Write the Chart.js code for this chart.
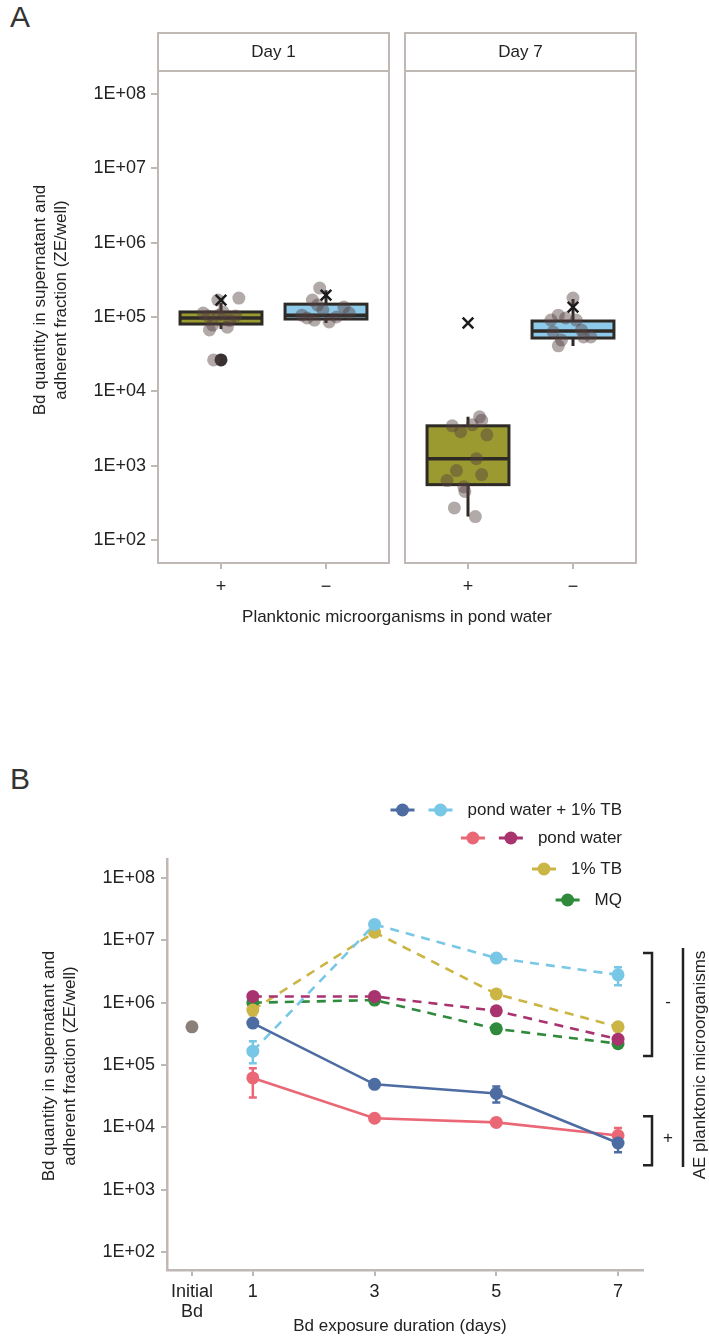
<!DOCTYPE html>
<html lang="en">
<head>
<meta charset="UTF-8">
<title>Bd quantity</title>
<style>
  body{margin:0;background:#fff;}
  #wrap{position:relative;width:709px;height:1337px;background:#fff;overflow:hidden;}
  canvas{position:absolute;}
  .lbl{position:absolute;font-family:'Liberation Sans',Arial,sans-serif;font-size:30px;color:#333;}
</style>
</head>
<body>
<div id="wrap">
  <div class="lbl" style="left:10px;top:0px">A</div>
  <div class="lbl" style="left:10px;top:762px">B</div>
  <canvas id="a1" width="709" height="640" style="left:0;top:0"></canvas>
  <canvas id="a2" width="314" height="640" style="left:395px;top:0"></canvas>
  <canvas id="b" width="709" height="597" style="left:0;top:740px"></canvas>
</div>
<script src="https://cdn.jsdelivr.net/npm/chart.js"></script>
<script>
// ---- shared axis ticks ----
const tickVals = [1e2, 1e3, 1e4, 1e5, 1e6, 1e7, 1e8];
const tickLabels = ['1E+02', '1E+03', '1E+04', '1E+05', '1E+06', '1E+07', '1E+08'];

// ---- panel A: planktonic microorganisms + / - ----
const groupsA = ['+', '\u2212'];
const facets = ['Day 1', 'Day 7'];
const boxFills = ['#9a9a30', '#8ecbea'];

// day 1 boxes (+, -)
const day1Q1 = [8.05e4, 9.4e4];
const day1Med = [9.7e4, 1.06e5];
const day1Q3 = [1.17e5, 1.49e5];
const day1Lo = [6.9e4, 8.3e4];
const day1Hi = [1.54e5, 2.3e5];
const day1Mean = [1.69e5, 1.97e5];
const day1Out = [[2.65e4], []];
const day1PlusVals = [1.8e5, 1.69e5, 1.13e5, 1.03e5, 7.8e4, 6.7e4, 7.3e4, 2.65e4, 1.06e5, 1.17e5, 1.03e5, 9.0e4];
const day1PlusJit = [0.17, -0.03, -0.17, 0.14, -0.08, -0.11, 0.06, -0.07, -0.02, 0.02, -0.12, 0.08];
const day1MinusVals = [2.45e5, 1.69e5, 1.36e5, 9.7e4, 9.1e4, 8.6e4, 1.0e5, 1.06e5, 1.24e5, 1.13e5, 1.45e5];
const day1MinusJit = [-0.06, -0.13, 0.17, -0.18, -0.11, 0.03, 0.10, -0.23, -0.03, 0.22, -0.08];

// day 7 boxes (+, -)
const day7Q1 = [5.56e2, 5.22e4];
const day7Med = [1.24e3, 6.49e4];
const day7Q3 = [3.44e3, 8.84e4];
const day7Lo = [2.07e2, 4.08e4];
const day7Hi = [4.55e3, 1.75e5];
const day7Mean = [8.3e4, 1.36e5];
const day7Out = [[], []];
const day7PlusVals = [4.55e3, 4.1e3, 3.44e3, 2.86e3, 3.55e3, 2.6e3, 1.24e3, 8.6e2, 7.6e2, 6.3e2, 5.2e2, 4.5e2, 2.7e2, 2.07e2];
const day7PlusJit = [0.11, 0.13, -0.15, -0.07, 0.04, 0.18, 0.08, -0.11, 0.13, -0.2, -0.04, -0.03, -0.13, 0.07];
const day7MinusVals = [1.8e5, 1.06e5, 9.1e4, 9.1e4, 6.3e4, 4.9e4, 4.1e4, 5.4e4, 5.4e4, 6.7e4, 9.7e4];
const day7MinusJit = [0, -0.14, -0.21, 0.03, -0.19, -0.11, -0.14, 0.10, 0.17, 0.08, -0.07];

// ---- panel B: time course ----
const xTickVals = [0, 1, 3, 5, 7];
const xTickLabels = [['Initial', 'Bd'], '1', '3', '5', '7'];
const days = [1, 3, 5, 7];
const initialBd = 4.1e5;
const pwTbPlus = [4.7e5, 4.9e4, 3.5e4, 5.6e3];
const pwTbMinus = [1.67e5, 1.8e7, 5.2e6, 2.8e6];
const pwPlus = [6.2e4, 1.4e4, 1.2e4, 7.4e3];
const pwMinus = [1.26e6, 1.26e6, 7.4e5, 2.6e5];
const tbOnly = [7.6e5, 1.35e7, 1.38e6, 4.1e5];
const mqOnly = [1.0e6, 1.1e6, 3.8e5, 2.2e5];
const pwTbPlusLo = [null, null, 2.5e4, 4.0e3];
const pwTbPlusHi = [null, null, 4.5e4, 7.0e3];
const pwTbMinusLo = [1.07e5, null, null, 1.9e6];
const pwTbMinusHi = [2.4e5, null, null, 3.7e6];
const pwPlusLo = [3.0e4, null, null, 5.8e3];
const pwPlusHi = [8.9e4, null, null, 9.8e3];
const tbLo = [6.3e5, null, null, null];
const tbHi = [9.5e5, null, null, null];
const seriesB = [pwTbPlus, pwTbMinus, pwPlus, pwMinus, tbOnly, mqOnly];
const seriesLo = [pwTbPlusLo, pwTbMinusLo, pwPlusLo, [null,null,null,null], tbLo, [null,null,null,null]];
const seriesHi = [pwTbPlusHi, pwTbMinusHi, pwPlusHi, [null,null,null,null], tbHi, [null,null,null,null]];
const colorsB = ['#4c6ca2', '#78c7e6', '#ea6775', '#a8336f', '#cbb545', '#2f8a3c'];
const dashedB = [false, true, false, true, true, true];
const legendLabels = ['pond water + 1% TB', 'pond water', '1% TB', 'MQ'];
const legendSeries = [[0, 1], [2, 3], [4], [5]];

const fontFam = "'Liberation Sans', Arial, sans-serif";
const axisGray = '#bfb8b4';
const ink = '#222';
const boxLine = '#2e2b27';

function fixedTicks(vals) {
  return function (s) { s.ticks = vals.map(v => ({ value: v })); };
}

function yLogScale(show, min, max, width, tl, pad, border) {
  return {
    type: 'logarithmic', min: min, max: max, display: show,
    afterBuildTicks: fixedTicks(tickVals),
    afterFit: s => { s.width = width; },
    grid: { drawOnChartArea: false, tickLength: tl, color: axisGray, lineWidth: 2 },
    border: border ? { display: true, color: axisGray, width: 2.5 } : { display: false },
    ticks: { autoSkip: false, padding: pad, color: ink, font: { family: fontFam, size: 18 },
      callback: v => tickLabels[tickVals.indexOf(v)] }
  };
}

function textRot(ctx, txt, x, y) {
  ctx.save();
  ctx.translate(x, y);
  ctx.rotate(-Math.PI / 2);
  ctx.textAlign = 'center';
  ctx.textBaseline = 'middle';
  ctx.fillText(txt, 0, 0);
  ctx.restore();
}

// ---- panel A ----
function makeFacet(id, fi, q1, med, q3, lo, hi, mean, outs, plusV, plusJ, minusV, minusJ, showY, yWidth, pad) {
  const pts = plusV.map((v, i) => ({ x: 1 + plusJ[i], y: v }))
    .concat(minusV.map((v, i) => ({ x: 2 + minusJ[i], y: v })));
  const outPts = [];
  outs.forEach((arr, g) => arr.forEach(v => outPts.push({ x: g + 1, y: v })));
  const boxHalf = 0.39;

  const facetPlugin = {
    id: 'facet' + fi,
    beforeDatasetsDraw(chart) {
      const { ctx, scales: { x, y } } = chart;
      ctx.save();
      ctx.strokeStyle = boxLine;
      for (let i = 0; i < q1.length; i++) {
        const cx = x.getPixelForValue(i + 1);
        const xl = x.getPixelForValue(i + 1 - boxHalf), xr = x.getPixelForValue(i + 1 + boxHalf);
        const yq1 = y.getPixelForValue(q1[i]), yq3 = y.getPixelForValue(q3[i]);
        ctx.lineWidth = 3;
        ctx.beginPath();
        ctx.moveTo(cx, y.getPixelForValue(hi[i])); ctx.lineTo(cx, yq3);
        ctx.moveTo(cx, yq1); ctx.lineTo(cx, y.getPixelForValue(lo[i]));
        ctx.stroke();
        ctx.fillStyle = boxFills[i];
        ctx.fillRect(xl, yq3, xr - xl, yq1 - yq3);
        ctx.strokeRect(xl, yq3, xr - xl, yq1 - yq3);
        ctx.lineWidth = 3.5;
        const ym = y.getPixelForValue(med[i]);
        ctx.beginPath(); ctx.moveTo(xl, ym); ctx.lineTo(xr, ym); ctx.stroke();
      }
      ctx.restore();
    },
    afterDraw(chart) {
      const { ctx, chartArea: a } = chart;
      ctx.save();
      ctx.strokeStyle = axisGray;
      ctx.lineWidth = 2;
      ctx.strokeRect(a.left, a.top, a.right - a.left, a.bottom - a.top);
      ctx.strokeRect(a.left, 33, a.right - a.left, a.top - 33);
      ctx.fillStyle = ink;
      ctx.font = '17px ' + fontFam;
      ctx.textAlign = 'center';
      ctx.textBaseline = 'middle';
      ctx.fillText(facets[fi], (a.left + a.right) / 2, (33 + a.top) / 2);
      if (showY) {
        textRot(ctx, 'Bd quantity in supernatant and', 40, 300);
        textRot(ctx, 'adherent fraction (ZE/well)', 61, 300);
        ctx.fillText('Planktonic microorganisms in pond water', 397, 617);
      }
      ctx.restore();
    }
  };

  return new Chart(document.getElementById(id), {
    type: 'scatter',
    data: {
      datasets: [
        { data: mean.map((v, i) => ({ x: i + 1, y: v })), pointStyle: 'crossRot', pointRadius: 7.5,
          borderColor: '#1b1b1b', pointBorderWidth: 2.5, order: 0 },
        { data: pts, pointRadius: 6.5, pointBorderWidth: 0,
          backgroundColor: 'rgba(85,65,65,0.45)', order: 1 },
        { data: outPts, pointRadius: 6.5, pointBorderWidth: 0, backgroundColor: '#3a3232', order: 2 }
      ]
    },
    options: {
      responsive: false, animation: false, devicePixelRatio: 1,
      layout: { padding: pad },
      plugins: { legend: { display: false }, tooltip: { enabled: false } },
      scales: {
        x: {
          type: 'linear', min: 0.4, max: 2.6,
          afterBuildTicks: fixedTicks([1, 2]),
          afterFit: s => { s.height = 40; },
          grid: { drawOnChartArea: false, tickLength: 6, color: axisGray, lineWidth: 2 },
          border: { display: false },
          ticks: { autoSkip: false, padding: 7, color: ink, font: { family: fontFam, size: 18 },
            callback: v => groupsA[v - 1] }
        },
        y: yLogScale(showY, 49.1, 2.04e8, yWidth, 7, 5, false)
      }
    },
    plugins: [facetPlugin]
  });
}

makeFacet('a1', 0, day1Q1, day1Med, day1Q3, day1Lo, day1Hi, day1Mean, day1Out,
  day1PlusVals, day1PlusJit, day1MinusVals, day1MinusJit, true, 158,
  { top: 71, left: 0, right: 320, bottom: 37 });
makeFacet('a2', 1, day7Q1, day7Med, day7Q3, day7Lo, day7Hi, day7Mean, day7Out,
  day7PlusVals, day7PlusJit, day7MinusVals, day7MinusJit, false, 0,
  { top: 71, left: 9, right: 73, bottom: 37 });

// ---- panel B ----
const dsB = seriesB.map((vals, k) => ({
  data: days.map((d, i) => ({ x: d, y: vals[i] })),
  showLine: true,
  borderColor: colorsB[k],
  backgroundColor: colorsB[k],
  borderWidth: 2.6,
  borderDash: dashedB[k] ? [9, 7] : [],
  pointRadius: 6.5,
  pointBorderWidth: 0
}));
dsB.push({ data: [{ x: 0, y: initialBd }], backgroundColor: '#8b7f7c', pointRadius: 6.5, pointBorderWidth: 0 });

const extrasB = {
  id: 'extrasB',
  beforeDatasetsDraw(chart) {
    const { ctx, scales: { x, y } } = chart;
    ctx.save();
    ctx.lineWidth = 2.5;
    seriesB.forEach((vals, k) => {
      ctx.strokeStyle = colorsB[k];
      days.forEach((d, i) => {
        const lo = seriesLo[k][i], hi = seriesHi[k][i];
        if (lo == null) return;
        const cx = x.getPixelForValue(d);
        const y1 = y.getPixelForValue(lo), y2 = y.getPixelForValue(hi);
        ctx.beginPath();
        ctx.moveTo(cx, y1); ctx.lineTo(cx, y2);
        ctx.moveTo(cx - 4, y1); ctx.lineTo(cx + 4, y1);
        ctx.moveTo(cx - 4, y2); ctx.lineTo(cx + 4, y2);
        ctx.stroke();
      });
    });
    ctx.restore();
  },
  afterDraw(chart) {
    const { ctx, scales: { y } } = chart;
    ctx.save();
    ctx.fillStyle = ink;
    ctx.font = '17px ' + fontFam;
    // axis titles
    textRot(ctx, 'Bd quantity in supernatant and', 49, 326);
    textRot(ctx, 'adherent fraction (ZE/well)', 70, 326);
    ctx.textAlign = 'center';
    ctx.textBaseline = 'middle';
    ctx.fillText('Bd exposure duration (days)', 400, 586);

    // legend
    const rowsY = [70, 98, 129, 160];
    const textRight = 622;
    legendLabels.forEach((lab, r) => {
      const w = ctx.measureText(lab).width;
      const xs = textRight - w;
      ctx.textAlign = 'left';
      ctx.fillStyle = ink;
      ctx.fillText(lab, xs, rowsY[r]);
      const ks = legendSeries[r];
      ks.forEach((k, j) => {
        const cx = xs - 27 - (ks.length - 1 - j) * 38;
        ctx.strokeStyle = colorsB[k];
        ctx.fillStyle = colorsB[k];
        ctx.lineWidth = 3;
        ctx.beginPath(); ctx.moveTo(cx - 12, rowsY[r]); ctx.lineTo(cx + 12, rowsY[r]); ctx.stroke();
        ctx.beginPath(); ctx.arc(cx, rowsY[r], 6.5, 0, Math.PI * 2); ctx.fill();
      });
    });

    // brackets
    ctx.strokeStyle = ink;
    ctx.fillStyle = ink;
    ctx.lineWidth = 2.5;
    const brackets = [[6.25e6, 1.39e5, '-'], [1.51e4, 2.47e3, '+']];
    brackets.forEach(b => {
      const t = y.getPixelForValue(b[0]), bt = y.getPixelForValue(b[1]);
      ctx.beginPath();
      ctx.moveTo(643, t); ctx.lineTo(652, t); ctx.lineTo(652, bt); ctx.lineTo(643, bt);
      ctx.stroke();
      ctx.textAlign = 'center';
      ctx.fillText(b[2], 668, (t + bt) / 2 - 2);
    });
    ctx.beginPath(); ctx.moveTo(683, 208); ctx.lineTo(683, 427); ctx.stroke();
    textRot(ctx, 'AE planktonic microorganisms', 700, 325);
    ctx.restore();
  }
};

new Chart(document.getElementById('b'), {
  type: 'scatter',
  data: { datasets: dsB },
  options: {
    responsive: false, animation: false, devicePixelRatio: 1,
    layout: { padding: { top: 119, left: 0, right: 66, bottom: 7 } },
    plugins: { legend: { display: false }, tooltip: { enabled: false } },
    scales: {
      x: {
        type: 'linear', min: -0.41, max: 7.41,
        afterBuildTicks: fixedTicks(xTickVals),
        afterFit: s => { s.height = 60; },
        grid: { drawOnChartArea: false, tickLength: 6, color: axisGray, lineWidth: 2 },
        border: { display: true, color: axisGray, width: 2.5 },
        ticks: { autoSkip: false, padding: 6, color: ink, font: { family: fontFam, size: 18, lineHeight: 1.1 },
          callback: v => xTickLabels[xTickVals.indexOf(v)] }
      },
      y: yLogScale(true, 51.4, 2.02e8, 167, 6, 6, true)
    }
  },
  plugins: [extrasB]
});
</script>
</body>
</html>
